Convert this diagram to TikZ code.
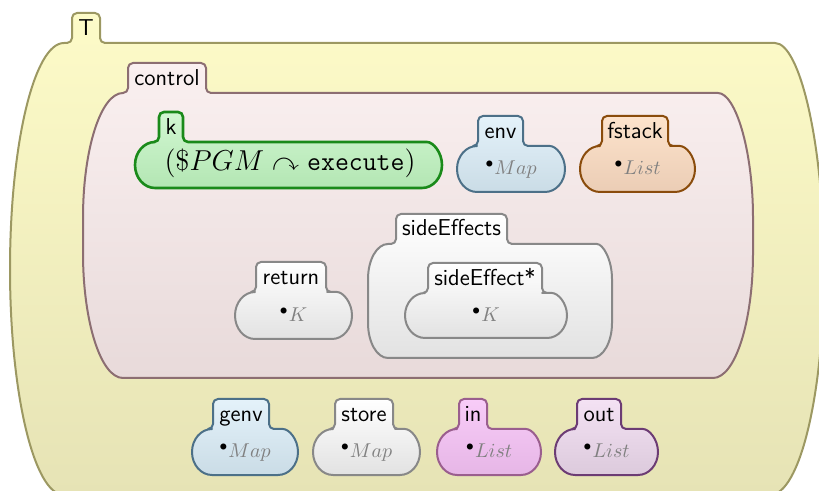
\documentclass[tikz,border=0pt]{standalone}
\usepackage{amsmath,amssymb}
\usepackage{tikz}

\definecolor{yellowtop}{HTML}{FDFBC8}
\definecolor{yellowbot}{HTML}{E6E3B5}
\definecolor{yellowline}{HTML}{9C9862}
\definecolor{pinktop}{HTML}{FAF0F0}
\definecolor{pinkbot}{HTML}{E8DADA}
\definecolor{pinkline}{HTML}{8C6E72}
\definecolor{greentop}{HTML}{D2F7D2}
\definecolor{greenbot}{HTML}{B3E6B3}
\definecolor{greenline}{HTML}{1A8A1A}
\definecolor{bluetop}{HTML}{E4F2FA}
\definecolor{bluebot}{HTML}{CADCE6}
\definecolor{blueline}{HTML}{4C7088}
\definecolor{orangetop}{HTML}{FDE3CC}
\definecolor{orangebot}{HTML}{EBCDB5}
\definecolor{orangeline}{HTML}{8A4C0C}
\definecolor{greytop}{HTML}{FFFFFF}
\definecolor{greybot}{HTML}{E2E2E2}
\definecolor{greyline}{HTML}{888888}
\definecolor{magentatop}{HTML}{F8CCF8}
\definecolor{magentabot}{HTML}{E6B6E6}
\definecolor{magentaline}{HTML}{9A5E8E}
\definecolor{purpletop}{HTML}{F4E2F4}
\definecolor{purplebot}{HTML}{DCCADC}
\definecolor{purpleline}{HTML}{6C3C74}

\tikzset{
  cell/.style={line width=1pt, line join=round},
  yellowcell/.style={draw=yellowline, top color=yellowtop, bottom color=yellowbot},
  pinkcell/.style={draw=pinkline, top color=pinktop, bottom color=pinkbot},
  greencell/.style={draw=greenline, top color=greentop, bottom color=greenbot, line width=1.3pt},
  bluecell/.style={draw=blueline, top color=bluetop, bottom color=bluebot},
  orangecell/.style={draw=orangeline, top color=orangetop, bottom color=orangebot},
  greycell/.style={draw=greyline, top color=greytop, bottom color=greybot},
  magentacell/.style={draw=magentaline, top color=magentatop, bottom color=magentabot},
  purplecell/.style={draw=purpleline, top color=purpletop, bottom color=purplebot},
  celllabel/.style={anchor=base, inner sep=0pt, font=\fontsize{11.5}{13}\sffamily},
  cellvalue/.style={anchor=base, inner sep=0pt, font=\fontsize{10}{12}\selectfont},
}

% #1 style, #2/#3 left/right corner, #4/#5 top/bottom,
% #6/#7 side radii, #8/#9 tab left/right (tab is 30 high)
\newcommand{\kcell}[9]{%
  \draw[cell,#1] (#2,#4) [rounded corners=2.5pt] -- (#8,#4) -- (#8,#4-30)
      -- (#9,#4-30) -- (#9,#4) -- (#3,#4) [sharp corners]
    .. controls ({#3+0.552*#6},#4) and ({#3+#6},{#4+#7-0.552*#7}) .. ({#3+#6},{#4+#7})
    -- ({#3+#6},{#5-#7})
    .. controls ({#3+#6},{#5-#7+0.552*#7}) and ({#3+0.552*#6},#5) .. (#3,#5)
    -- (#2,#5)
    .. controls ({#2-0.552*#6},#5) and ({#2-#6},{#5-#7+0.552*#7}) .. ({#2-#6},{#5-#7})
    -- ({#2-#6},{#4+#7})
    .. controls ({#2-#6},{#4+#7-0.552*#7}) and ({#2-0.552*#6},#4) .. cycle;}
\newcommand{\kunit}[1]{$^{\bullet}\textcolor{gray}{#1}$}

\begin{document}
\begin{tikzpicture}[x=0.5pt,y=-0.5pt]
  \useasboundingbox (0,0) rectangle (819,491);

  % outer T cell
  \kcell{yellowcell}{64}{770}{43}{495}{54}{226}{72}{100}
  \node[celllabel] (T) at (86,36) {T};

  % control
  \kcell{pinkcell}{123}{713}{93}{378}{40}{125}{128}{206}
  \node[celllabel] (control) at (167,86) {control};

  \kcell{greencell}{155}{422}{142}{188}{20}{23}{159}{183}
  \node[celllabel] (k) at (171,135) {k};
  \node[cellvalue, font=\fontsize{13.5}{16}\selectfont] (k-val) at (290,171)
    {$(\$PGM \curvearrowright \texttt{execute})$};

  \kcell{bluecell}{477}{545}{146}{192}{20}{23}{478}{523}
  \node[celllabel] (env) at (500.5,139) {env};
  \node[cellvalue] (env-val) at (511,175) {\kunit{Map}};

  \kcell{orangecell}{600}{675}{146}{192}{20}{23}{602}{668}
  \node[celllabel] (fstack) at (635,139) {fstack};
  \node[cellvalue] (fstack-val) at (637.5,175) {\kunit{List}};

  \kcell{greycell}{255}{332}{292}{339}{20}{23.5}{256}{326}
  \node[celllabel] (return) at (291,285) {return};
  \node[cellvalue] (return-val) at (293.5,321.5) {\kunit{K}};

  \kcell{greycell}{388}{592}{244}{358}{20}{35}{396}{507}
  \node[celllabel] (sideEffects) at (451.5,236) {sideEffects};

  \kcell{greycell}{425}{547}{293}{338}{20}{22.5}{428}{542}
  \node[celllabel] (sideEffect) at (485,286) {sideEffect*};
  \node[cellvalue] (sideEffect-val) at (486,321.5) {\kunit{K}};

  % rest of T
  \kcell{bluecell}{212}{278}{429}{475}{20}{23}{213}{269}
  \node[celllabel] (genv) at (241,422) {genv};
  \node[cellvalue] (genv-val) at (245,458) {\kunit{Map}};

  \kcell{greycell}{333}{400}{429}{475}{20}{23}{335}{393}
  \node[celllabel] (store) at (364,422) {store};
  \node[cellvalue] (store-val) at (366.5,458) {\kunit{Map}};

  \kcell{magentacell}{457}{521}{429}{475}{20}{23}{459}{487}
  \node[celllabel] (in) at (473,422) {in};
  \node[cellvalue] (in-val) at (489,458) {\kunit{List}};

  \kcell{purplecell}{575}{638}{429}{475}{20}{23}{577}{621}
  \node[celllabel] (out) at (599,422) {out};
  \node[cellvalue] (out-val) at (606.5,458) {\kunit{List}};
\end{tikzpicture}
\end{document}
